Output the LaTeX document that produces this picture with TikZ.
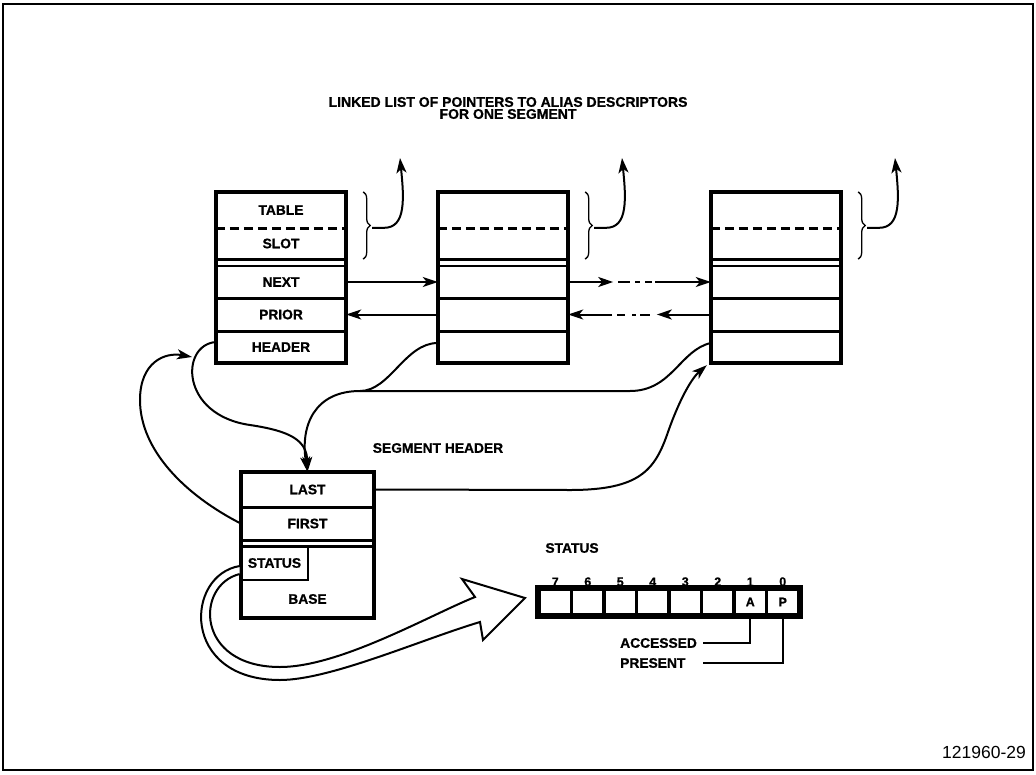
\documentclass[tikz,border=0pt]{standalone}
\usepackage{fontspec}
\setmainfont{Liberation Sans}[BoldFeatures={FakeBold=0.8}]
\usetikzlibrary{arrows.meta,decorations.pathreplacing,positioning}
\newcommand{\lblfont}{\fontsize{13.8}{12}\selectfont\bfseries}
\newcommand{\bitfont}{\fontsize{12.5}{12}\selectfont\bfseries}
\tikzset{
  cell/.style={minimum width=130pt, inner sep=0pt, font=\lblfont},
  lbl/.style={inner sep=0pt, font=\lblfont},
  frame/.style={line width=4.5pt},
  sep/.style={line width=2.6pt},
  wire/.style={line width=2pt},
  ptr/.style={line width=2pt, -{Stealth[length=15pt,width=10pt,inset=4pt]}},
  gapn/.style={line width=2pt, dash pattern=on 0pt off 5pt on 12pt off 5pt on 5pt off 5pt on 7pt off 10pt},
  gapp/.style={line width=2pt, dash pattern=on 0pt off 7pt on 10pt off 4pt on 4pt off 7pt on 8pt off 10pt},
  bit/.style={draw, line width=3.3pt, minimum width=32.5pt, minimum height=26pt, inner sep=0pt, font=\bitfont},
  bitno/.style={inner sep=1pt, font=\bitfont}
}
\begin{document}
\begin{tikzpicture}[x=1pt,y=-1pt]
\useasboundingbox (0,0) rectangle (1036,774);
\draw[line width=2.5pt] (3,4) rectangle (1033,770);

\node[lbl, align=center, font=\fontsize{14}{12}\selectfont\bfseries] (heading) at (508,108) {LINKED LIST OF POINTERS TO ALIAS DESCRIPTORS\\FOR ONE SEGMENT};

% alias list entries
\foreach \i/\x/\txa/\txb/\txc/\txd/\txe in {1/281/TABLE/SLOT/NEXT/PRIOR/HEADER, 2/503/{}/{}/{}/{}/{}, 3/776/{}/{}/{}/{}/{}}{
  \node[cell, minimum height=36pt] (tbl\i) at (\x,210) {\txa};
  \node[cell, minimum height=31pt] (slot\i) at (\x,243.5) {\txb};
  \node[cell, minimum height=32pt] (next\i) at (\x,282) {\txc};
  \node[cell, minimum height=33pt] (prior\i) at (\x,314.5) {\txd};
  \node[cell, minimum height=32pt] (hdr\i) at (\x,347) {\txe};
  \draw[frame] (tbl\i.north west) rectangle (hdr\i.south east);
  \draw[sep, dash pattern=on 9pt off 5pt] (tbl\i.south west) -- (tbl\i.south east);
  \draw[sep] (slot\i.south west) -- (slot\i.south east);
  \draw[sep] (next\i.north west) -- (next\i.north east);
  \draw[sep] (next\i.south west) -- (next\i.south east);
  \draw[sep] (prior\i.south west) -- (prior\i.south east);
  \draw[line width=1.3pt, decorate, decoration={brace, amplitude=7pt}] ([xshift=17pt]tbl\i.north east) -- ([xshift=17pt]slot\i.south east);
  \coordinate (up\i) at (\x+119,158);
  \draw[ptr] ([xshift=26pt]slot\i.north east) -- ++(12,0) .. controls +(22,0) and +(4,40) .. (up\i);
}

% next / prior pointers
\draw[ptr] (next1.east) -- (next2.west);
\draw[ptr] (prior2.west) -- (prior1.east);
\coordinate (na) at ([xshift=45pt]next2.east);
\coordinate (nb) at ([xshift=87pt]next2.east);
\draw[ptr] (next2.east) -- (na);
\draw[gapn] (na) -- (nb);
\draw[ptr] (nb) -- (next3.west);
\coordinate (pa) at ([xshift=-54pt]prior3.west);
\coordinate (pb) at ([xshift=44pt]prior2.east);
\draw[ptr] (prior3.west) -- (pa);
\draw[gapp] (pa) -- (pb);
\draw[ptr] (pb) -- (prior2.east);

% segment header
\node[lbl] (seghd) at (438,448) {SEGMENT HEADER};
\node[cell, minimum width=133pt, minimum height=35pt] (last) at (307.5,489.5) {LAST};
\node[cell, minimum width=133pt, minimum height=33pt] (first) at (307.5,523.5) {FIRST};
\node[cell, minimum width=133pt, minimum height=38pt] (base) at (307.5,599) {BASE};
\node[cell, draw, sep, minimum width=67pt, minimum height=34pt] (stat) at (274.5,563) {STATUS};
\draw[frame] (last.north west) rectangle (base.south east);
\draw[sep] (last.south west) -- (last.south east);
\draw[sep] (first.south west) -- (first.south east);
\draw[sep] ([yshift=-6pt]first.south west) -- ([yshift=-6pt]first.south east);

% header pointers
\coordinate (jn) at (360,391);
\draw[ptr] ([yshift=4pt]hdr3.west) .. controls (680,350) and (672,391) .. (630,391) -- (jn) .. controls (315,391) and (300,425) .. (last.north);
\draw[wire] ([yshift=4pt]hdr2.west) .. controls (405,343) and (390,391) .. (jn);
\draw[ptr] ([yshift=5pt]hdr1.west) .. controls (180,345) and (180,415) .. (250,425) .. controls (290,431) and (307,440) .. (last.north);
\coordinate (hdrin) at (192,357);
\draw[ptr] (first.west) .. controls (185,495) and (140,450) .. (140,400) .. controls (140,362) and (165,352) .. (hdrin);
\draw[ptr] (last.east) -- (570,490) .. controls (640,490) and (655,470) .. (668,432) .. controls (680,398) and (692,378) .. ([xshift=-4pt,yshift=-2pt]hdr3.south west);

% status byte
\node[lbl] (stathd) at (572,548) {STATUS};
\foreach \b/\t [count=\k from 0] in {7/{},6/{},5/{},4/{},3/{},2/{},1/A,0/P}
  \node[bit, label={[bitno]above:\b}] (b\b) at (555.25+32.5*\k,602) {\t};
\draw[frame] (b7.north west) rectangle (b0.south east);
\node[lbl, anchor=west] (acc) at (620,643) {ACCESSED};
\node[lbl, anchor=west] (pres) at (620,663) {PRESENT};
\coordinate[right=6pt of acc.east] (acce);
\draw[wire] (b1.south) |- (acce);
\draw[wire] (b0.south) |- (acce |- pres);

% hollow arrow from STATUS field
\filldraw[fill=white, line width=2pt, line join=miter] ([yshift=-3pt]stat.west) .. controls (185,575) and (180,680) .. (280,680) .. controls (330,680) and (420,640) .. (480,622) -- (483,640) -- (525,598) -- (462,579) -- (475,597) .. controls (430,615) and (340,667) .. (280,667) .. controls (195,667) and (195,585) .. ([yshift=-11pt]stat.west);

\node[anchor=east, inner sep=0pt, font=\fontsize{17.5}{18}\selectfont] (figno) at (1026,752) {121960-29};
\end{tikzpicture}
\end{document}
